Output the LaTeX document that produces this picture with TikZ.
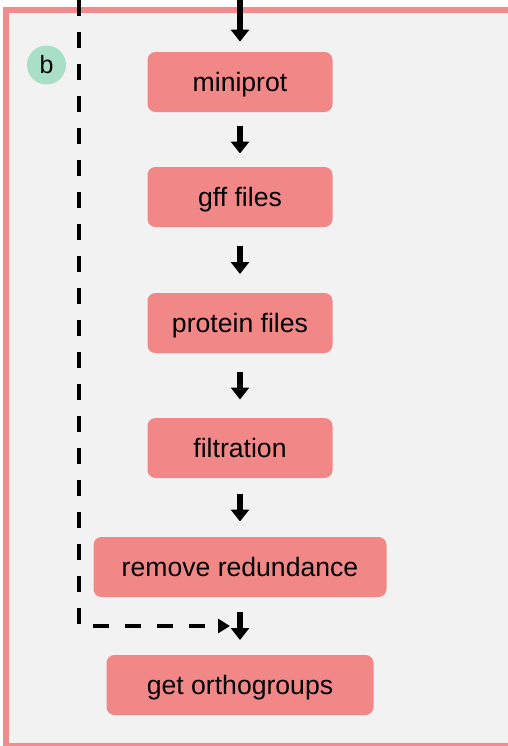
\documentclass[tikz,border=0pt]{standalone}
\usepackage{fontspec}
\setmainfont{Liberation Sans}
\usetikzlibrary{arrows.meta}
\definecolor{boxpink}{HTML}{F28787}
\definecolor{framepink}{HTML}{F28B8B}
\definecolor{bggray}{HTML}{F2F2F2}
\definecolor{mint}{HTML}{A8DFC6}

\begin{document}
\begin{tikzpicture}[x=0.5pt, y=-0.5pt]
  \tikzstyle{stepbox} = [fill=boxpink, rounded corners=4pt, minimum height=30pt, font=\fontsize{13.3}{16}\selectfont, inner sep=0pt, text depth=0pt]
  \tikzstyle{arr} = [line width=2.6pt, -{Triangle[length=6pt, width=9pt]}]
  \tikzstyle{dashline} = [line width=2.3pt, dash pattern=on 8pt off 8pt, -{Triangle[length=6pt, width=7pt]}]

  \useasboundingbox (0,0) rectangle (508,746);
  \clip (0,0) rectangle (508,746);
  \fill[white] (0,0) rectangle (508,746);
  \draw[framepink, line width=3pt, fill=bggray] (6,9.5) rectangle (520,746);

  \node[circle, fill=mint, minimum size=19.5pt, inner sep=0pt, font=\fontsize{12.5}{15}\selectfont] (lbl) at (46.5,65) {b};

  \foreach \n / \y / \w / \t in {mp/82/92.5/miniprot, gff/197/92.5/gff files, prot/323/92.5/protein files, filt/448/92.5/filtration, rr/567/146.5/remove redundance, og/685/133.5/get orthogroups} {%
    \node[stepbox, minimum width=\w pt] (\n) at (240, \y) {\t};
  }

  \foreach \a / \b [count=\k] in {mp/gff, gff/prot, prot/filt, filt/rr, rr/og} {%
    \path (\a.south) -- (\b.north) coordinate[midway] (m\k);
    \draw[arr] ([yshift=7pt]m\k) -- ([yshift=-7pt]m\k);
  }

  \coordinate (topin) at (240,0);
  \draw[arr] (topin) -- ([yshift=5pt]mp.north);

  \coordinate (dtop) at (79,0);
  \draw[dashline] (dtop) |- ([xshift=-5pt]m5);

\end{tikzpicture}
\end{document}
